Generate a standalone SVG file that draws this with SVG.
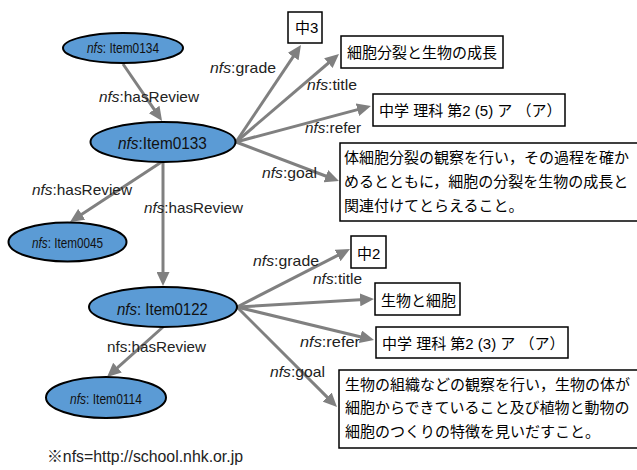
<svg xmlns="http://www.w3.org/2000/svg" width="637" height="470" viewBox="0 0 637 470">
<style>
.edge{stroke:#808080;stroke-width:3;fill:none;marker-end:url(#ah)}
.ell{fill:#5B9BD5;stroke:#000;stroke-width:2}
.box{fill:#fff;stroke:#000;stroke-width:1.5}
.lbl{font-family:"Liberation Sans","Noto Sans CJK JP",sans-serif;font-size:15px;fill:#222}
.nl{font-family:"Liberation Sans",sans-serif;fill:#111}
.jp{font-family:"Liberation Sans","Noto Sans CJK JP",sans-serif;font-size:15px;fill:#000}
.it{font-style:italic}
</style>
<defs>
<marker id="ah" markerUnits="userSpaceOnUse" markerWidth="14" markerHeight="13" viewBox="0 0 14 13" refX="4" refY="6.5" orient="auto">
<path d="M0,0 L14,6.5 L0,13 z" fill="#808080"/>
</marker>
</defs>
<g id="connectors">
<line class="edge" x1="123" y1="64" x2="156.4" y2="112.7"/>
<line class="edge" x1="236" y1="142" x2="295.4" y2="53.3"/>
<line class="edge" x1="236" y1="142" x2="331.4" y2="60.5"/>
<line class="edge" x1="236" y1="142" x2="361.3" y2="108.6"/>
<line class="edge" x1="236" y1="142" x2="329.6" y2="177.5"/>
<line class="edge" x1="163" y1="161" x2="78.4" y2="216.5"/>
<line class="edge" x1="163" y1="162" x2="163" y2="276"/>
<line class="edge" x1="237" y1="307" x2="341.1" y2="253.6"/>
<line class="edge" x1="237" y1="307" x2="364" y2="299.6"/>
<line class="edge" x1="237" y1="307" x2="364.3" y2="337.7"/>
<line class="edge" x1="237" y1="307" x2="329.9" y2="399.9"/>
<line class="edge" x1="163" y1="327" x2="114.5" y2="370.3"/>
<text class="lbl" x="99" y="102" textLength="100" lengthAdjust="spacingAndGlyphs"><tspan class="it">nfs</tspan>:hasReview</text>
<text class="lbl" x="32" y="195" textLength="100" lengthAdjust="spacingAndGlyphs"><tspan class="it">nfs</tspan>:hasReview</text>
<text class="lbl" x="144" y="213" textLength="99" lengthAdjust="spacingAndGlyphs"><tspan class="it">nfs</tspan>:hasReview</text>
<text class="lbl" x="107" y="352" textLength="99" lengthAdjust="spacingAndGlyphs">nfs:hasReview</text>
<text class="lbl" x="210" y="73" textLength="66" lengthAdjust="spacingAndGlyphs"><tspan class="it">nfs</tspan>:grade</text>
<text class="lbl" x="307" y="90" textLength="50" lengthAdjust="spacingAndGlyphs"><tspan class="it">nfs</tspan>:title</text>
<text class="lbl" x="305" y="133" textLength="56" lengthAdjust="spacingAndGlyphs"><tspan class="it">nfs</tspan>:refer</text>
<text class="lbl" x="262" y="178" textLength="55" lengthAdjust="spacingAndGlyphs"><tspan class="it">nfs</tspan>:goal</text>
<text class="lbl" x="253" y="266" textLength="66" lengthAdjust="spacingAndGlyphs"><tspan class="it">nfs</tspan>:grade</text>
<text class="lbl" x="313" y="284" textLength="49" lengthAdjust="spacingAndGlyphs"><tspan class="it">nfs</tspan>:title</text>
<text class="lbl" x="300" y="347" textLength="60" lengthAdjust="spacingAndGlyphs"><tspan class="it">nfs</tspan>:refer</text>
<text class="lbl" x="270" y="377" textLength="55" lengthAdjust="spacingAndGlyphs"><tspan class="it">nfs</tspan>:goal</text>
</g>
<g id="item0134">
<ellipse class="ell" cx="123" cy="48" rx="60" ry="15"/>
<text class="nl" transform="translate(87,53) scale(0.85,1)" x="0" y="0" font-size="14"><tspan class="it">nfs</tspan>: Item0134</text>
</g>
<g id="item0133">
<ellipse class="ell" cx="163" cy="142" rx="72.5" ry="20"/>
<text class="nl" transform="translate(118,149) scale(0.905,1)" x="0" y="0" font-size="17"><tspan class="it">nfs</tspan>:Item0133</text>
</g>
<g id="item0045">
<ellipse class="ell" cx="67.5" cy="242" rx="59" ry="19.5"/>
<text class="nl" transform="translate(32,248) scale(0.84,1)" x="0" y="0" font-size="14"><tspan class="it">nfs</tspan>: Item0045</text>
</g>
<g id="item0122">
<ellipse class="ell" cx="163" cy="307" rx="74" ry="20"/>
<text class="nl" transform="translate(117,315) scale(0.883,1)" x="0" y="0" font-size="17"><tspan class="it">nfs</tspan>: Item0122</text>
</g>
<g id="item0114">
<ellipse class="ell" cx="106" cy="397.5" rx="60" ry="20.5"/>
<text class="nl" transform="translate(70,404) scale(0.86,1)" x="0" y="0" font-size="14"><tspan class="it">nfs</tspan>: Item0114</text>
</g>
<g id="grade3">
<rect class="box" x="288" y="12" width="34" height="31"/>
<text class="jp" x="295" y="33">中3</text>
</g>
<g id="title1">
<rect class="box" x="341" y="36" width="162" height="32"/>
<text class="jp" x="347" y="58">細胞分裂と生物の成長</text>
</g>
<g id="refer1">
<rect class="box" x="373" y="94" width="192" height="32"/>
<text class="jp" x="379" y="116">中学 理科 第2 (5) ア （ア）</text>
</g>
<g id="goal1">
<rect class="box" x="340" y="143" width="300" height="78"/>
<text class="jp" x="344" y="163">体細胞分裂の観察を行い，その過程を確か</text>
<text class="jp" x="344" y="187">めるとともに，細胞の分裂を生物の成長と</text>
<text class="jp" x="344" y="211">関連付けてとらえること。</text>
</g>
<g id="grade2">
<rect class="box" x="351" y="236" width="35" height="32"/>
<text class="jp" x="357" y="259">中2</text>
</g>
<g id="title2">
<rect class="box" x="375" y="283" width="85" height="32"/>
<text class="jp" x="381" y="306">生物と細胞</text>
</g>
<g id="refer2">
<rect class="box" x="376" y="327" width="192" height="31"/>
<text class="jp" x="382" y="349">中学 理科 第2 (3) ア （ア）</text>
</g>
<g id="goal2">
<rect class="box" x="339" y="370" width="300" height="78"/>
<text class="jp" x="345" y="390">生物の組織などの観察を行い，生物の体が</text>
<text class="jp" x="345" y="413">細胞からできていること及び植物と動物の</text>
<text class="jp" x="345" y="437">細胞のつくりの特徴を見いだすこと。</text>
</g>
<text class="lbl" x="47" y="462" textLength="196" lengthAdjust="spacingAndGlyphs" style="font-size:16px">※nfs=http://school.nhk.or.jp</text>
</svg>
